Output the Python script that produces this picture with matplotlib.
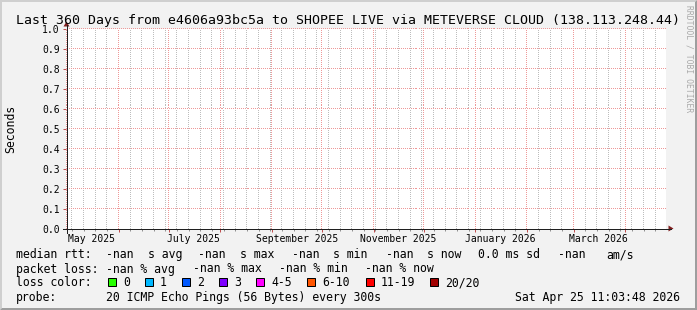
import datetime as dt
import numpy as np
import matplotlib
matplotlib.use("Agg")
import matplotlib.pyplot as plt
import matplotlib.dates as mdates
import matplotlib.transforms as mtransforms
from matplotlib.lines import Line2D
from matplotlib.patches import Polygon, Rectangle

# ---------------- data ----------------
title = "Last 360 Days from e4606a93bc5a to SHOPEE LIVE via METEVERSE CLOUD (138.113.248.44)"
y_label = "Seconds"
end_time = dt.datetime(2026, 4, 25, 11, 3, 48)
span_days = 360
y_ticks = [0.0, 0.1, 0.2, 0.3, 0.4, 0.5, 0.6, 0.7, 0.8, 0.9, 1.0]
month_label_dates = [dt.datetime(2025, 5, 1), dt.datetime(2025, 7, 1), dt.datetime(2025, 9, 1),
                     dt.datetime(2025, 11, 1), dt.datetime(2026, 1, 1), dt.datetime(2026, 3, 1)]
month_label_texts = ["May 2025", "July 2025", "September 2025", "November 2025",
                     "January 2026", "March 2026"]

rtt_head = "median rtt:"
rtt_items = ["-nan", "s avg", "-nan", "s max", "-nan", "s min", "-nan", "s now",
             "0.0 ms sd", "-nan", "am/s"]
loss_head = "packet loss:"
loss_items = ["-nan % avg", "-nan % max", "-nan % min", "-nan % now"]
color_head = "loss color:"
loss_color_labels = ["0", "1", "2", "3", "4-5", "6-10", "11-19", "20/20"]
loss_color_values = ["#26ff00", "#00b8ff", "#0059ff", "#7e00ff", "#ff00ff",
                     "#ff5500", "#ff0000", "#a10000"]
probe_head = "probe:"
probe_text = "20 ICMP Echo Pings (56 Bytes) every 300s"
stamp = "Sat Apr 25 11:03:48 2026"
watermark = "RRDTOOL / TOBI OETIKER"

# ---------------- style ----------------
W, H = 697, 310
BACK = "#f2f2f2"
SHADEA = "#cfcfcf"
SHADEB = "#9e9e9e"
GRID = "#bdbdbd"
MGRID = "#ee9999"
TICKC = "#c05050"
ARROW = "#801f1f"
AXIS = "#1f1f1f"
MONO = "DejaVu Sans Mono"
PX = 72.0 / 100.0  # points per pixel

# plot area in pixel boundaries (from top-left)
L, R, T, B = 66, 666, 29, 229
x0, y0 = 66.5, 228.5      # axis line centres
x1, y1 = 666.5, 28.5


def fx(x):
    return x / W


def fy(y):
    return 1 - y / H


fig = plt.figure(figsize=(W / 100, H / 100), dpi=100, facecolor=BACK)

# 3D border
fig.add_artist(Polygon([(fx(0), fy(310)), (fx(2), fy(308)), (fx(2), fy(2)), (fx(695), fy(2)),
                        (fx(697), fy(0)), (fx(0), fy(0))], closed=True,
                       transform=fig.transFigure, facecolor=SHADEA, edgecolor="none"))
fig.add_artist(Polygon([(fx(2), fy(308)), (fx(695), fy(308)), (fx(695), fy(2)), (fx(697), fy(0)),
                        (fx(697), fy(310)), (fx(0), fy(310))], closed=True,
                       transform=fig.transFigure, facecolor=SHADEB, edgecolor="none"))

ax = fig.add_axes([fx(L), fy(B), (R - L) / W, (B - T) / H])
ax.set_facecolor("white")
for s in ax.spines.values():
    s.set_visible(False)

start_time = end_time - dt.timedelta(days=span_days)
ax.set_xlim(start_time, end_time)
ax.set_ylim(0, 1)

ax.xaxis.set_major_locator(mdates.MonthLocator())
ax.xaxis.set_minor_locator(mdates.WeekdayLocator(byweekday=mdates.SU))
ax.set_yticks(y_ticks)
ax.set_yticklabels([f"{v:.1f}" for v in y_ticks])
ax.grid(False)

# rrdtool style 1-on/1-off dotted grid, drawn as single-pixel dots
dot = dict(ls="none", marker="s", ms=PX, mew=0, clip_on=False)
tv = mtransforms.blended_transform_factory(ax.transData, ax.transAxes)
tv_grid = mtransforms.offset_copy(tv, fig=fig, x=-0.5, y=0, units="dots")
th = mtransforms.offset_copy(mtransforms.blended_transform_factory(ax.transAxes, ax.transData),
                             fig=fig, x=0, y=1.5, units="dots")
ys = (np.arange(1, 200, 2) + 0.5) / 200.0
xs = (np.arange(0, 600, 2) + 0.5) / 600.0
minor_locs = ax.xaxis.get_minorticklocs()
major_locs = ax.xaxis.get_majorticklocs()
for locs, col in ((minor_locs, GRID), (major_locs, MGRID)):
    vx = np.repeat(locs, len(ys))
    vy = np.tile(ys, len(locs))
    ax.plot(vx, vy, transform=tv_grid, color=col, **dot)
hx = np.tile(xs, len(y_ticks) - 1)
hy = np.repeat(y_ticks[1:], len(xs))
ax.plot(hx, hy, transform=th, color=MGRID, **dot)

ax.tick_params(axis="x", which="major", length=3 * PX, width=PX, color=TICKC,
               direction="out", labelbottom=False)
ax.tick_params(axis="x", which="minor", length=2 * PX, width=PX, color="#8f8f8f",
               direction="out", labelbottom=False)
ax.tick_params(axis="y", which="major", length=3 * PX, width=PX, color=TICKC,
               direction="out", pad=2.5, labelsize=7)
for lab in ax.get_yticklabels():
    lab.set_family(MONO)

# month labels (centred half a month after the month start, as rrdtool does)
for d, t in zip(month_label_dates, month_label_texts):
    ax.text(d + dt.timedelta(days=15), (B - 241.7) / (B - T), t, transform=tv,
            ha="center", va="baseline", fontsize=7, family=MONO, color="black")

# axes lines and arrows
fig.add_artist(Line2D([fx(x0 - 4), fx(x1 + 4)], [fy(y0), fy(y0)], transform=fig.transFigure,
                      color=AXIS, linewidth=PX))
fig.add_artist(Line2D([fx(x0), fx(x0)], [fy(y0 + 4), fy(y1 - 4)], transform=fig.transFigure,
                      color=AXIS, linewidth=PX))
fig.add_artist(Polygon([(fx(x1 + 2), fy(y0 - 3)), (fx(x1 + 2), fy(y0 + 3)), (fx(x1 + 7), fy(y0))],
                       closed=True, transform=fig.transFigure, facecolor=ARROW, edgecolor="none"))
fig.add_artist(Polygon([(fx(x0 - 3), fy(y1 - 2)), (fx(x0 + 3), fy(y1 - 2)), (fx(x0), fy(y1 - 7))],
                       closed=True, transform=fig.transFigure, facecolor=ARROW, edgecolor="none"))

# title, axis label, watermark
fig.text(fx(348), fy(24.1), title, ha="center", va="baseline", fontsize=9.54, family=MONO)
fig.text(fx(14), fy(128.5), y_label, rotation=90, rotation_mode="anchor", ha="center",
         va="baseline", fontsize=8.3, family=MONO)
fig.text(fx(686), fy(5), watermark, rotation=-90, rotation_mode="anchor", ha="left",
         va="baseline", fontsize=5.8, family=MONO, color=(0, 0, 0, 0.3))

# legend
LFS = 8.32
base = [258.3, 272.5, 286.5, 300.6]


def ltext(x, y, s, **kw):
    fig.text(fx(x), fy(y), s, ha=kw.pop("ha", "left"), va="baseline", fontsize=LFS,
             family=MONO, **kw)


ltext(16, base[0], rtt_head)
for x, s in zip([106.5, 148.2, 198.5, 240.3, 291.5, 333.3, 385.5, 427.3, 478, 557.5, 606.2],
                rtt_items):
    ltext(x, base[0], s)

ltext(16, base[1], loss_head)
for x, s in zip([106.5, 192.6, 278.7, 364.8], loss_items):
    ltext(x, base[1], s)

ltext(16, base[2], color_head)
for x, lab, col in zip([123.3, 160, 197.3, 234, 271, 322, 380.7, 445],
                       loss_color_labels, loss_color_values):
    bx = x - 15
    fig.add_artist(Rectangle((fx(bx), fy(286)), 8 / W, 8 / H, transform=fig.transFigure,
                             facecolor=col, edgecolor="black", linewidth=PX))
    ltext(x, base[2], lab)

ltext(16, base[3], probe_head)
ltext(106.5, base[3], probe_text)
ltext(680, base[3], stamp, ha="right")

fig.savefig("out.png", dpi=100, facecolor=BACK)
